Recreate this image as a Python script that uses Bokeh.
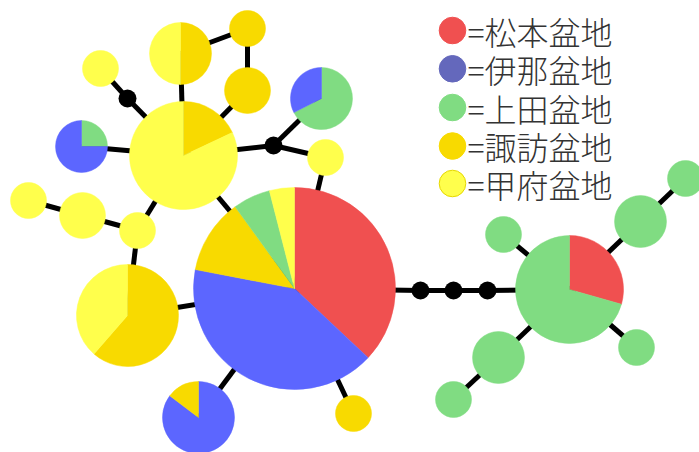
import math
from bokeh.plotting import figure
from bokeh.models import Range1d
from bokeh.core.properties import value
from bokeh.embed import file_html
from bokeh.resources import INLINE

W, H = 699, 452

# ---- data ----
regions = ["松本盆地", "伊那盆地", "上田盆地", "諏訪盆地", "甲府盆地"]
region_colors = {"松本盆地": "#F05050", "伊那盆地": "#5C66FF", "上田盆地": "#80DC82",
                 "諏訪盆地": "#F8DA00", "甲府盆地": "#FFFF4C"}
legend_colors = ["#F05050", "#6468BC", "#80DC82", "#F8DA00", "#FFFF4C"]
legend_line = ["#F05050", "#6468BC", "#80DC82", "#F8DA00", "#E6D800"]

# shares (%) of each haplotype, listed clockwise from 12 o'clock
node_regions = [
    ["松本盆地", "伊那盆地", "諏訪盆地", "上田盆地", "甲府盆地"],  # 0 main
    ["諏訪盆地", "甲府盆地"],   # 1
    ["諏訪盆地", "甲府盆地"],   # 2
    ["諏訪盆地"],               # 3
    ["諏訪盆地"],               # 4
    ["甲府盆地"],               # 5
    ["上田盆地", "伊那盆地"],   # 6
    ["上田盆地", "伊那盆地"],   # 7
    ["甲府盆地"],               # 8
    ["甲府盆地"],               # 9
    ["甲府盆地"],               # 10
    ["甲府盆地"],               # 11
    ["諏訪盆地", "甲府盆地"],   # 12
    ["伊那盆地", "諏訪盆地"],   # 13
    ["諏訪盆地"],               # 14
    ["松本盆地", "上田盆地"],   # 15
    ["上田盆地"], ["上田盆地"], ["上田盆地"], ["上田盆地"], ["上田盆地"], ["上田盆地"],
]
node_shares = [
    [37, 41, 12, 6, 4],
    [18, 82],
    [50, 50],
    [100], [100], [100],
    [25, 75],
    [67.5, 32.5],
    [100], [100], [100], [100],
    [61.4, 38.6],
    [85.3, 14.7],
    [100],
    [29.4, 70.6],
    [100], [100], [100], [100], [100], [100],
]

# ---- layout (pixel positions, y measured downward, and radii) ----
node_x = [294, 183, 180, 247, 247, 100, 81, 321, 325, 28, 82, 137, 127, 198, 353,
          569, 503, 640, 685, 636, 498, 453]
node_y = [288, 155, 53, 28, 90, 68, 146, 98, 157, 200, 215, 230, 315, 417, 413,
          289, 234, 221, 178, 347, 357, 399]
node_r = [101, 54, 31, 18, 23, 18, 26, 31, 18, 18, 23, 18, 51, 36, 18,
          54, 18, 26, 18, 18, 26, 18]

mv_x = [127, 273, 420, 453, 487]
mv_y = [98, 145, 290, 290, 290]

# edges: node ids, "m#" are median vectors
edges = [(0, 1), (0, 8), ("m1", 8), ("m1", 7), ("m1", 1), (1, 2), (2, 3), (3, 4), (4, 1),
         (1, "m0"), ("m0", 5), (1, 6), (1, 11), (11, 10), (10, 9), (11, 12), (12, 0),
         (0, 13), (0, 14), (0, "m2"), ("m2", "m3"), ("m3", "m4"), ("m4", 15),
         (15, 16), (15, 17), (15, 19), (15, 20), (17, 18), (20, 21)]

legend_y = [30, 68.3, 107, 145.5, 183]


def pos(k):
    if isinstance(k, str):
        i = int(k[1:])
        return mv_x[i], H - mv_y[i]
    return node_x[k], H - node_y[k]


p = figure(width=W, height=H, output_backend="svg", toolbar_location=None,
           x_range=Range1d(0, W), y_range=Range1d(0, H), min_border=0)
p.axis.visible = False
p.grid.visible = False
p.outline_line_color = None
p.background_fill_color = "white"

# edges
xs, ys = [], []
for a, b in edges:
    (x0, y0), (x1, y1) = pos(a), pos(b)
    xs.append([x0, x1])
    ys.append([y0, y1])
p.multi_line(xs, ys, line_color="black", line_width=5)

# median vectors
p.circle(x=mv_x, y=[H - v for v in mv_y], radius=9, fill_color="black", line_color=None)

# pies
wx, wy, wr, ws, we, wc = [], [], [], [], [], []
cx, cy, cr, cc = [], [], [], []
for i in range(len(node_x)):
    x, y, r = node_x[i], H - node_y[i], node_r[i]
    regs, shs = node_regions[i], node_shares[i]
    tot = sum(shs)
    if len(shs) == 1:
        cx.append(x); cy.append(y); cr.append(r); cc.append(region_colors[regs[0]])
        continue
    cum = 0.0
    for reg, s in zip(regs, shs):
        a0 = math.pi / 2 - 2 * math.pi * cum / tot
        a1 = math.pi / 2 - 2 * math.pi * (cum + s) / tot
        wx.append(x); wy.append(y); wr.append(r)
        ws.append(a1); we.append(a0); wc.append(region_colors[reg])
        cum += s

p.circle(x=cx, y=cy, radius=cr, fill_color=cc, line_color=cc, line_width=0.5)
p.wedge(x=wx, y=wy, radius=wr, start_angle=ws, end_angle=we, direction="anticlock",
        fill_color=wc, line_color=wc, line_width=0.5)

# legend
lx = [452] * len(regions)
ly = [H - v for v in legend_y]
p.circle(x=lx, y=ly, radius=13.3, fill_color=legend_colors, line_color=legend_line,
         line_width=1)
p.text(x=[467] * len(regions), y=ly, text=["=" + r for r in regions],
       text_font=value("'Noto Sans CJK JP Light', 'Noto Sans CJK JP'"),
       text_font_size="32px",
       text_baseline="middle", text_align="left", text_color="#333333")

open("out.html", "w").write(file_html(p, INLINE))
